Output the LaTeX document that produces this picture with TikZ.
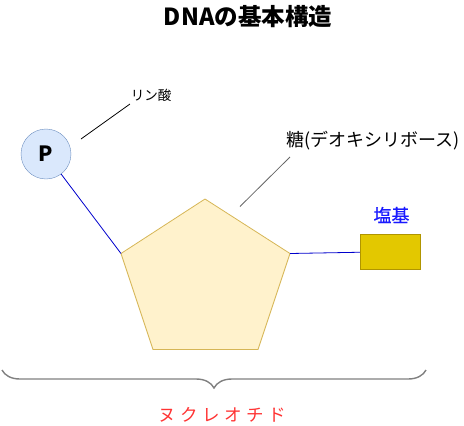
\documentclass[tikz,border=0pt]{standalone}
\usepackage{fontspec}
\setmainfont{Noto Sans CJK JP}
\usetikzlibrary{decorations.pathreplacing}
\definecolor{pfill}{HTML}{DAE8FC}
\definecolor{pdraw}{HTML}{6C8EBF}
\definecolor{sfill}{HTML}{FFF2CC}
\definecolor{sdraw}{HTML}{D6B656}
\definecolor{bfill}{HTML}{E3C800}
\definecolor{bdraw}{HTML}{B09500}
\definecolor{linkblue}{HTML}{0000CC}
\definecolor{lblblue}{HTML}{1A1AFF}
\definecolor{nred}{HTML}{FF3333}
\tikzset{
  link/.style={draw=linkblue, line width=0.8pt},
  pointer/.style={line width=0.8pt},
  lbl/.style={inner sep=0pt, anchor=center},
}
\begin{document}
\begin{tikzpicture}[x=1pt,y=-1pt]
\useasboundingbox (0,0) rectangle (464,426);
% title
\node[lbl, font=\fontsize{23.5}{27}\selectfont\bfseries] (title) at (248,17) {DNAの基本構造};
% phosphate
\node[circle, draw=pdraw, fill=pfill, minimum size=50pt, inner sep=0pt, font=\fontsize{21}{24}\selectfont\bfseries] (P) at (46,154) {P};
\node[lbl, font=\fontsize{13.5}{15}\selectfont] (rin) at (151,95) {リン酸};
\coordinate (rinA) at (130,104);
\coordinate (rinB) at (81,139);
\draw[pointer, black] (rinA) -- (rinB);
% sugar pentagon
\coordinate (sT) at (205,199);
\coordinate (sL) at (121,253.5);
\coordinate (sR) at (290,253.5);
\coordinate (sBR) at (258,349.5);
\coordinate (sBL) at (153,349.5);
\draw[draw=sdraw, fill=sfill, line width=0.8pt, line join=miter] (sT) -- (sR) -- (sBR) -- (sBL) -- (sL) -- cycle;
\node[lbl, font=\fontsize{18}{21}\selectfont] (sugar) at (373,141) {糖(デオキシリボース)};
\coordinate (sugA) at (290,157);
\coordinate (sugB) at (240,206.5);
\draw[pointer, draw=black!60] (sugA) -- (sugB);
% base
\node[draw=bdraw, fill=bfill, minimum width=60.5pt, minimum height=35pt, inner sep=0pt, line width=0.8pt] (base) at (390.5,251.7) {};
\node[lbl, text=lblblue, font=\fontsize{18}{20}\selectfont\addfontfeature{FakeBold=0.6}] (baselbl) at (391.5,215) {塩基};
% links
\draw[link] (P) -- (sL);
\draw[link] (sR) -- (base);
% brace
\coordinate (brL) at (2,370);
\coordinate (brR) at (426,370);
\draw[draw=black!50, line width=1.4pt, decorate, decoration={brace, mirror, amplitude=18pt, raise=0pt}] (brL) -- (brR);
\node[lbl, text=nred, font=\fontsize{17.5}{19}\selectfont] (nuc) at (222.5,415) {ヌ\hspace{4.5pt}ク\hspace{4.5pt}レ\hspace{4.5pt}オ\hspace{4.5pt}チ\hspace{4.5pt}ド};
\end{tikzpicture}
\end{document}
